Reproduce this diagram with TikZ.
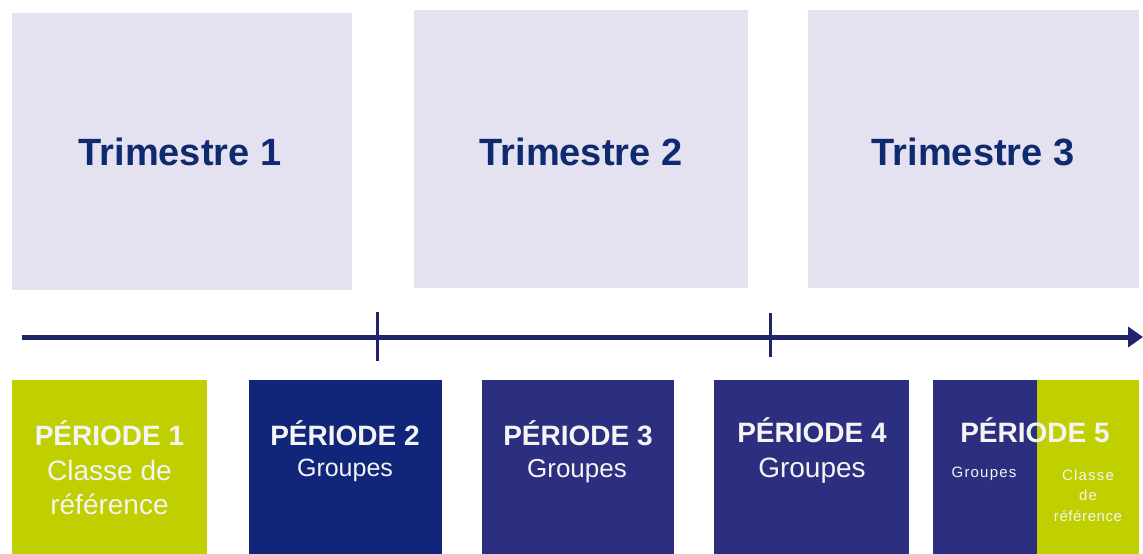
\documentclass[tikz,border=0pt]{standalone}
\usepackage{fontspec}
\setmainfont{Liberation Sans}
\usetikzlibrary{arrows.meta}
\definecolor{lav}{HTML}{E4E2F0}
\definecolor{lime}{HTML}{C0CF00}
\definecolor{navyA}{HTML}{11267A}
\definecolor{navyB}{HTML}{2C2F7F}
\definecolor{axisc}{HTML}{20256A}
\definecolor{titlec}{HTML}{0F2A6E}
\definecolor{txtw}{HTML}{F4F4F4}
\begin{document}
\begin{tikzpicture}[x=1pt,y=-1pt,
  trimbox/.style={fill=lav, draw=none, inner sep=0pt},
  trimtxt/.style={anchor=base, inner sep=0pt, text=titlec, font=\fontsize{38}{44}\selectfont\bfseries},
  perbox/.style={draw=none, inner sep=0pt},
  pertitle/.style={anchor=base, inner sep=0pt, text=txtw, font=\fontsize{28}{32}\selectfont\bfseries},
  pertxt/.style={anchor=base, inner sep=0pt, text=txtw},
  axisline/.style={draw=axisc, line width=5pt},
  tickline/.style={draw=axisc, line width=3pt}
]
\useasboundingbox (0,0) rectangle (1143,554);
% trimester boxes
\node[trimbox, minimum width=340pt, minimum height=277pt] (t1) at (182,151.5) {};
\node[trimbox, minimum width=334pt, minimum height=278pt] (t2) at (581,149) {};
\node[trimbox, minimum width=331pt, minimum height=278pt] (t3) at (973.5,149) {};
\node[trimtxt] (t1l) at (180,165) {Trimestre 1};
\node[trimtxt] (t2l) at (581,165) {Trimestre 2};
\node[trimtxt] (t3l) at (973,165) {Trimestre 3};
% axis
\coordinate (a0) at (22,337);
\coordinate (a1) at (1143,337);
\draw[axisline, -{Triangle[length=15pt,width=20pt]}] (a0) -- (a1);
\coordinate (k1a) at (377,312);
\coordinate (k1b) at (377,361);
\coordinate (k2a) at (770,313);
\coordinate (k2b) at (770,357);
\draw[tickline] (k1a) -- (k1b);
\draw[tickline] (k2a) -- (k2b);
% period boxes
\node[perbox, fill=lime, minimum width=195pt, minimum height=174pt] (p1) at (109.5,467) {};
\node[perbox, fill=navyA, minimum width=193pt, minimum height=174pt] (p2) at (345.5,467) {};
\node[perbox, fill=navyB, minimum width=192pt, minimum height=174pt] (p3) at (578,467) {};
\node[perbox, fill=navyB, minimum width=195pt, minimum height=174pt] (p4) at (811.5,467) {};
\node[perbox, fill=navyB, minimum width=104pt, minimum height=174pt] (p5a) at (985,467) {};
\node[perbox, fill=lime, minimum width=102pt, minimum height=174pt] (p5b) at (1088,467) {};
% period texts
\node[pertitle] (p1t) at (109.5,445) {PÉRIODE 1};
\node[pertxt, font=\fontsize{28}{32}\selectfont] (p1a) at (109.5,480) {Classe de};
\node[pertxt, font=\fontsize{28}{32}\selectfont] (p1b) at (109.5,514) {référence};
\node[pertitle] (p2t) at (345,445) {PÉRIODE 2};
\node[pertxt, font=\fontsize{25}{30}\selectfont] (p2a) at (345,476) {Groupes};
\node[pertitle] (p3t) at (578,445) {PÉRIODE 3};
\node[pertxt, font=\fontsize{26}{30}\selectfont] (p3a) at (577,477) {Groupes};
\node[pertitle] (p4t) at (812,442) {PÉRIODE 4};
\node[pertxt, font=\fontsize{28}{32}\selectfont] (p4a) at (812,477) {Groupes};
\node[pertitle] (p5t) at (1035,442) {PÉRIODE 5};
\node[pertxt, font=\fontsize{15}{18}\selectfont\addfontfeature{LetterSpace=8}] (p5a1) at (984,477) {Groupes};
\node[pertxt, font=\fontsize{15}{18}\selectfont\addfontfeature{LetterSpace=8}] (p5b1) at (1088,480) {Classe};
\node[pertxt, font=\fontsize{15}{18}\selectfont\addfontfeature{LetterSpace=8}] (p5b2) at (1088,500) {de};
\node[pertxt, font=\fontsize{15}{18}\selectfont\addfontfeature{LetterSpace=4}] (p5b3) at (1088,521) {référence};
\end{tikzpicture}
\end{document}
